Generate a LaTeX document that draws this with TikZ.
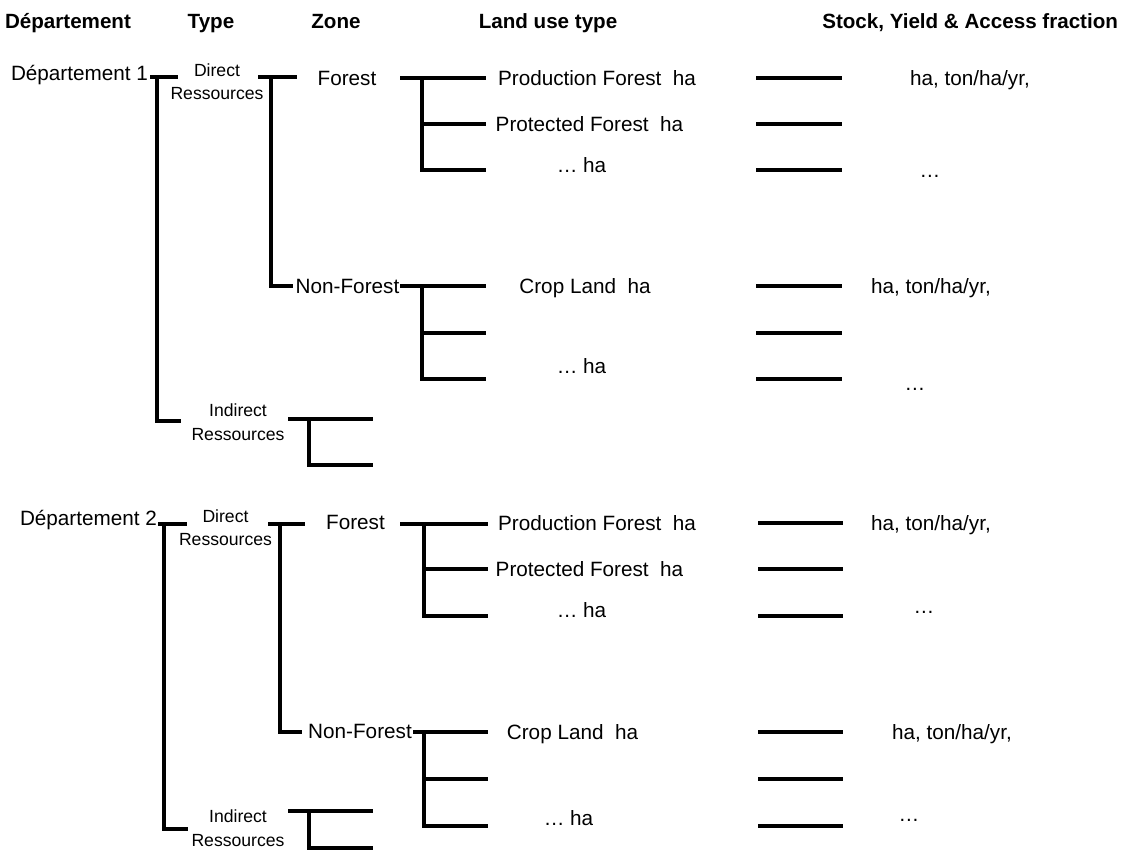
\documentclass[tikz,border=0pt]{standalone}
\usepackage{fontspec}
\setmainfont{Liberation Sans}
\newcommand{\fmain}{\fontsize{20.7}{24}\selectfont}
\newcommand{\fsmall}{\fontsize{17.6}{23}\selectfont}
\newcommand{\fsmallb}{\fontsize{17.6}{24}\selectfont}
\newcommand{\fhead}{\fontsize{20.6}{24}\selectfont\bfseries}
\tikzset{
  br/.style={line width=3.2pt, line join=miter},
  lbl/.style={inner sep=0pt, outer sep=0pt, font=\fmain, anchor=base},
  hdr/.style={inner sep=0pt, outer sep=0pt, font=\fhead, anchor=base},
  two/.style={inner sep=0pt, outer sep=0pt, font=\fsmall, align=center, anchor=center},
  twob/.style={inner sep=0pt, outer sep=0pt, font=\fsmallb, align=center, anchor=center}
}
\begin{document}
\begin{tikzpicture}[x=1pt,y=-1pt]
\useasboundingbox (0,0) rectangle (1126,851);
% headers
\node[hdr] (hdep) at (68,29) {Département};
\node[hdr] (htype) at (211,29) {Type};
\node[hdr] (hzone) at (336,29) {Zone};
\node[hdr] (hland) at (548,29) {Land use type};
\node[hdr, anchor=base east] (hstock) at (1118,29) {Stock, Yield \& Access fraction};

% ================= Section 1 =================
\node[lbl, anchor=base west] (dep1) at (11,80) {Département 1};
\node[two] (dir1) at (217,82) {Direct\\Ressources};
\node[twob] (ind1) at (238,422.5) {Indirect\\Ressources};
\node[lbl] (for1) at (347,85) {Forest};
\node[lbl] (nf1) at (347.5,293) {Non-Forest};
\node[lbl] (prod1) at (597,85) {Production Forest\ \ ha};
\node[lbl] (prot1) at (589.5,131) {Protected Forest\ \ ha};
\node[lbl] (lu1c) at (581.5,172) {\char"2026\ ha};
\node[lbl] (crop1) at (585,293) {Crop Land\ \ ha};
\node[lbl] (lu1f) at (581.5,373) {\char"2026\ ha};
\node[lbl] (val1a) at (970,85) {ha, ton/ha/yr,};
\node[lbl] (ell1a) at (930,177) {\char"2026};
\node[lbl] (val1b) at (931,293) {ha, ton/ha/yr,};
\node[lbl] (ell1b) at (915,390) {\char"2026};

\coordinate (d1s) at (150,77); \coordinate (d1t) at (178,77);
\coordinate (d1v) at (157,77); \coordinate (d1i) at (181,421);
\draw[br] (d1s) -- (d1t);
\draw[br] (d1v) |- (d1i);

\coordinate (r1s) at (258,77); \coordinate (r1t) at (297,77);
\coordinate (r1v) at (271,77); \coordinate (r1n) at (293,286);
\draw[br] (r1s) -- (r1t);
\draw[br] (r1v) |- (r1n);

\coordinate (f1s) at (400,78); \coordinate (f1a) at (486,78);
\coordinate (f1v) at (422,78); \coordinate (f1m) at (422,124);
\coordinate (f1b) at (486,124); \coordinate (f1c) at (486,170);
\draw[br] (f1s) -- (f1a);
\draw[br] (f1v) |- (f1c);
\draw[br] (f1m) -- (f1b);

\coordinate (n1s) at (400,286); \coordinate (n1a) at (486,286);
\coordinate (n1v) at (422,286); \coordinate (n1m) at (422,333);
\coordinate (n1b) at (486,333); \coordinate (n1c) at (486,379);
\draw[br] (n1s) -- (n1a);
\draw[br] (n1v) |- (n1c);
\draw[br] (n1m) -- (n1b);

\foreach \y/\n in {78/a,124/b,170/c,286/d,333/e,379/f}{
  \coordinate (q1\n l) at (756,\y); \coordinate (q1\n r) at (842,\y);
  \draw[br] (q1\n l) -- (q1\n r);
}

\coordinate (i1s) at (288,419); \coordinate (i1a) at (373,419);
\coordinate (i1v) at (309,419); \coordinate (i1b) at (373,465);
\draw[br] (i1s) -- (i1a);
\draw[br] (i1v) |- (i1b);

% ================= Section 2 =================
\node[lbl, anchor=base west] (dep2) at (20,525) {Département 2};
\node[two] (dir2) at (225.5,528) {Direct\\Ressources};
\node[twob] (ind2) at (238,828.5) {Indirect\\Ressources};
\node[lbl] (for2) at (355.5,529) {Forest};
\node[lbl] (nf2) at (360,738) {Non-Forest};
\node[lbl] (prod2) at (597,530) {Production Forest\ \ ha};
\node[lbl] (prot2) at (589.5,576) {Protected Forest\ \ ha};
\node[lbl] (lu2c) at (581.5,617) {\char"2026\ ha};
\node[lbl] (crop2) at (572.5,739) {Crop Land\ \ ha};
\node[lbl] (lu2f) at (568.5,825) {\char"2026\ ha};
\node[lbl] (val2a) at (931,530) {ha, ton/ha/yr,};
\node[lbl] (ell2a) at (924,613) {\char"2026};
\node[lbl] (val2b) at (952,739) {ha, ton/ha/yr,};
\node[lbl] (ell2b) at (909,821) {\char"2026};

\coordinate (d2s) at (158,524); \coordinate (d2t) at (187,524);
\coordinate (d2v) at (164,524); \coordinate (d2i) at (188,829);
\draw[br] (d2s) -- (d2t);
\draw[br] (d2v) |- (d2i);

\coordinate (r2s) at (268,524); \coordinate (r2t) at (305,524);
\coordinate (r2v) at (280,524); \coordinate (r2n) at (302,732);
\draw[br] (r2s) -- (r2t);
\draw[br] (r2v) |- (r2n);

\coordinate (f2s) at (400,524); \coordinate (f2a) at (488,524);
\coordinate (f2v) at (424,524); \coordinate (f2m) at (424,569);
\coordinate (f2b) at (488,569); \coordinate (f2c) at (488,616);
\draw[br] (f2s) -- (f2a);
\draw[br] (f2v) |- (f2c);
\draw[br] (f2m) -- (f2b);

\coordinate (n2s) at (413,732); \coordinate (n2a) at (488,732);
\coordinate (n2v) at (424,732); \coordinate (n2m) at (424,779);
\coordinate (n2b) at (488,779); \coordinate (n2c) at (488,826);
\draw[br] (n2s) -- (n2a);
\draw[br] (n2v) |- (n2c);
\draw[br] (n2m) -- (n2b);

\foreach \y/\n in {523/a,569/b,616/c,732/d,779/e,826/f}{
  \coordinate (q2\n l) at (758,\y); \coordinate (q2\n r) at (843,\y);
  \draw[br] (q2\n l) -- (q2\n r);
}

\coordinate (i2s) at (288,811); \coordinate (i2a) at (373,811);
\coordinate (i2v) at (309,811); \coordinate (i2b) at (373,848);
\draw[br] (i2s) -- (i2a);
\draw[br] (i2v) |- (i2b);
\end{tikzpicture}
\end{document}
